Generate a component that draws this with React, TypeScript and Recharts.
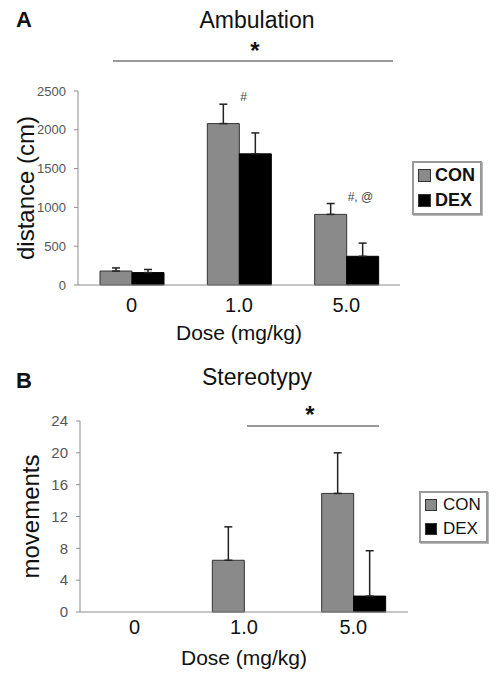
import React from 'react';
import { BarChart, Bar, XAxis, YAxis, ErrorBar, Legend, LabelList } from 'recharts';

const doses = ['0', '1.0', '5.0'];

// panel A - ambulation (distance, cm)
const ambCon = [180, 2080, 910];
const ambConErr = [40, 250, 140];
const ambDex = [160, 1690, 370];
const ambDexErr = [40, 270, 170];
const ambNotes = ['', '#', '#, @'];
const ambTicks = [0, 500, 1000, 1500, 2000, 2500];

// panel B - stereotypy (movements)
const stCon = [0, 6.5, 14.9];
const stConErr = [0, 4.2, 5.1];
const stDex = [0, 0, 2];
const stDexErr = [0, 5, 5.7];
const stTicks = [0, 4, 8, 12, 16, 20, 24];

const FONT = '"Liberation Sans", Arial, sans-serif';
const GRAY = '#8a8a8a';
const AXIS = '#8c8c8c';

// only the upper half of the error bar is drawn
const upErr = (e: number) => (e > 0 ? [0, e] : null);

const ambData = doses.map((d, i) => ({
  dose: d,
  con: ambCon[i],
  conErr: upErr(ambConErr[i]),
  dex: ambDex[i],
  dexErr: upErr(ambDexErr[i]),
  note: ambNotes[i],
}));

const stData = doses.map((d, i) => ({
  dose: d,
  con: stCon[i],
  conErr: upErr(stConErr[i]),
  dex: stDex[i],
  dexErr: upErr(stDexErr[i]),
}));

const noteLabel = (props: any) => {
  const { x, y, width, height, value } = props;
  if (!value) return null;
  const i = ambNotes.indexOf(value);
  const perUnit = height / ambCon[i];
  const top = y + height - (ambCon[i] + ambConErr[i]) * perUnit;
  return (
    <text x={x + width + 1} y={top - 3} fontSize={12} fill="#444" fontFamily={FONT}>
      {value}
    </text>
  );
};

const legendBox = (bold: boolean, fs: number, sw: number, row: number, gap: number) => (props: any) => (
  <div
    style={{
      border: '2px solid #999',
      background: '#fff',
      padding: '0 5px 0 4px',
      fontFamily: FONT,
      fontSize: fs,
      fontWeight: bold ? 700 : 400,
      color: '#111',
      boxShadow: '1px 1px 0 #bbb',
    }}
  >
    {(props.payload || []).map((p: any) => (
      <div key={p.value} style={{ display: 'flex', alignItems: 'center', height: row }}>
        <span
          style={{
            display: 'inline-block',
            width: sw,
            height: sw,
            background: p.color,
            border: '1px solid #333',
            marginRight: gap,
            boxSizing: 'border-box',
          }}
        />
        {p.value}
      </div>
    ))}
  </div>
);

const centered = (text: string, cx: number, top: number, fs: number, bold = false) => (
  <div
    style={{
      position: 'absolute',
      left: cx - 150,
      width: 300,
      top,
      textAlign: 'center',
      fontFamily: FONT,
      fontSize: fs,
      lineHeight: 1,
      fontWeight: bold ? 700 : 400,
      color: '#111',
    }}
  >
    {text}
  </div>
);

const letter = (text: string, top: number) => (
  <div
    style={{
      position: 'absolute',
      left: 16,
      top,
      fontFamily: FONT,
      fontSize: 22,
      lineHeight: 1,
      fontWeight: 700,
      color: '#111',
    }}
  >
    {text}
  </div>
);

const hline = (x1: number, x2: number, y: number) => (
  <div style={{ position: 'absolute', left: x1, top: y - 1, width: x2 - x1, height: 2, background: '#999' }} />
);

export default function App() {
  return (
    <div style={{ position: 'absolute', left: 0, top: 0, width: 497, height: 678, background: '#fff' }}>
      {letter('A', 9)}
      {centered('Ambulation', 257, 9, 23)}
      {centered('*', 255, 39, 24, true)}
      {hline(113, 393, 61)}

      <div style={{ position: 'absolute', left: 0, top: 0 }}>
        <BarChart
          width={497}
          height={350}
          data={ambData}
          margin={{ top: 91, right: 97, bottom: 5, left: 0 }}
          barGap={0}
          barCategoryGap={22}
        >
          <XAxis
            dataKey="dose"
            height={60}
            tickLine={false}
            tickMargin={7}
            stroke={AXIS}
            tick={{ fill: '#111', fontSize: 20, fontFamily: FONT }}
            label={{
              value: 'Dose (mg/kg)',
              position: 'insideBottom',
              offset: 5,
              style: { fontSize: 21, fill: '#111', fontFamily: FONT },
            }}
          />
          <YAxis
            width={78}
            domain={[0, 2500]}
            ticks={ambTicks}
            interval={0}
            tickSize={4}
            tickMargin={8}
            stroke={AXIS}
            tick={{ fill: '#555', fontSize: 13, fontFamily: FONT }}
            label={{
              value: 'distance (cm)',
              angle: -90,
              position: 'insideLeft',
              offset: 25,
              style: { textAnchor: 'middle', fontSize: 24, fill: '#111', fontFamily: FONT },
            }}
          />
          <Legend
            layout="vertical"
            align="center"
            verticalAlign="middle"
            content={legendBox(true, 18, 13, 25, 4)}
            wrapperStyle={{ left: 412, top: 161, width: 'auto', height: 'auto' }}
          />
          <Bar dataKey="con" name="CON" fill={GRAY} stroke="#333" strokeWidth={1} isAnimationActive={false}>
            <ErrorBar dataKey="conErr" width={4} stroke="#222" strokeWidth={1.5} />
            <LabelList dataKey="note" content={noteLabel} />
          </Bar>
          <Bar dataKey="dex" name="DEX" fill="#000" stroke="#000" isAnimationActive={false}>
            <ErrorBar dataKey="dexErr" width={4} stroke="#222" strokeWidth={1.5} />
          </Bar>
        </BarChart>
      </div>

      {letter('B', 370)}
      {centered('Stereotypy', 257, 366, 23)}
      {centered('*', 310, 403, 24, true)}
      {hline(247, 379, 426)}

      <div style={{ position: 'absolute', left: 0, top: 350 }}>
        <BarChart
          width={497}
          height={328}
          data={stData}
          margin={{ top: 71, right: 89, bottom: 6, left: 0 }}
          barGap={0}
          barCategoryGap={23}
        >
          <XAxis
            dataKey="dose"
            height={60}
            tickLine={false}
            tickMargin={2}
            stroke={AXIS}
            tick={{ fill: '#111', fontSize: 20, fontFamily: FONT }}
            label={{
              value: 'Dose (mg/kg)',
              position: 'insideBottom',
              offset: 7,
              style: { fontSize: 21, fill: '#111', fontFamily: FONT },
            }}
          />
          <YAxis
            width={80}
            domain={[0, 24]}
            ticks={stTicks}
            interval={0}
            tickSize={4}
            tickMargin={8}
            stroke={AXIS}
            tick={{ fill: '#555', fontSize: 15, fontFamily: FONT }}
            label={{
              value: 'movements',
              angle: -90,
              position: 'insideLeft',
              offset: 30,
              style: { textAnchor: 'middle', fontSize: 24, fill: '#111', fontFamily: FONT },
            }}
          />
          <Legend
            layout="vertical"
            align="center"
            verticalAlign="middle"
            content={legendBox(false, 17, 12, 24, 6)}
            wrapperStyle={{ left: 419, top: 141, width: 'auto', height: 'auto' }}
          />
          <Bar dataKey="con" name="CON" fill={GRAY} stroke="#333" strokeWidth={1} isAnimationActive={false}>
            <ErrorBar dataKey="conErr" width={4} stroke="#222" strokeWidth={1.5} />
          </Bar>
          <Bar dataKey="dex" name="DEX" fill="#000" stroke="#000" isAnimationActive={false}>
            <ErrorBar dataKey="dexErr" width={4} stroke="#222" strokeWidth={1.5} />
          </Bar>
        </BarChart>
      </div>
    </div>
  );
}
